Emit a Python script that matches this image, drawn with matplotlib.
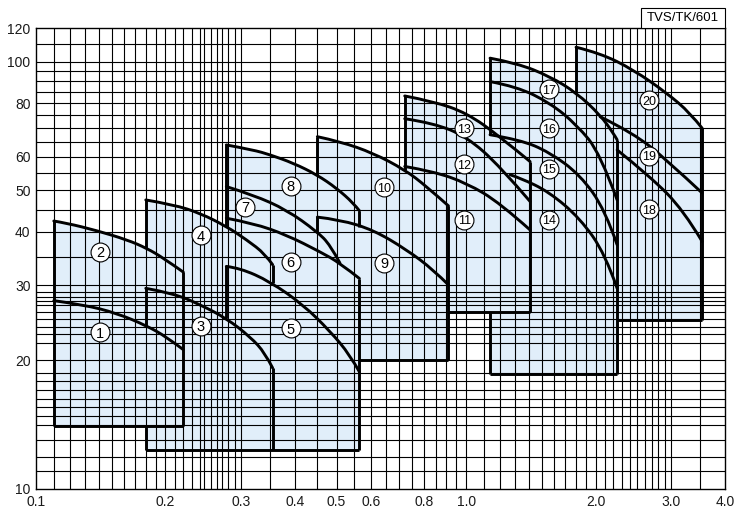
import matplotlib
matplotlib.use('Agg')
import numpy as np
import matplotlib.pyplot as plt
from matplotlib.patches import Rectangle, PathPatch
from matplotlib.path import Path

plt.rcParams['font.family'] = ['Liberation Sans', 'DejaVu Sans']

# pump curves: flow (x) and head (y)
c1_q = [0.11, 0.129, 0.154, 0.181, 0.201, 0.22]
c1_h = [27.6, 27.0, 25.8, 24.1, 22.7, 21.2]
c2_q = [0.11, 0.118, 0.138, 0.163, 0.181, 0.198, 0.22]
c2_h = [42.4, 41.9, 40.3, 38.3, 36.6, 34.7, 32.2]
c3_q = [0.18, 0.209, 0.241, 0.277, 0.315, 0.341, 0.355]
c3_h = [29.5, 28.7, 27.0, 25.1, 22.7, 20.8, 19.2]
c4_q = [0.18, 0.209, 0.241, 0.277, 0.309, 0.341, 0.355]
c4_h = [47.5, 46.3, 44.2, 41.2, 38.3, 35.5, 33.5]
c5_q = [0.277, 0.298, 0.35, 0.418, 0.483, 0.537, 0.565]
c5_h = [33.2, 32.9, 30.6, 27.0, 23.4, 20.6, 18.8]
c6_q = [0.277, 0.32, 0.383, 0.458, 0.509, 0.565]
c6_h = [43.05, 41.9, 39.3, 35.9, 33.8, 31.1]
c7_q = [0.277, 0.32, 0.383, 0.45, 0.483, 0.509]
c7_h = [51.05, 48.8, 45.0, 40.05, 37.3, 33.8]
c8_q = [0.277, 0.32, 0.35, 0.397, 0.45, 0.50, 0.547, 0.565]
c8_h = [63.9, 62.2, 60.6, 57.9, 54.4, 50.6, 46.7, 44.8]
c9_q = [0.451, 0.509, 0.609, 0.728, 0.839, 0.91]
c9_h = [43.3, 42.7, 40.4, 36.3, 32.6, 30.05]
c10_q = [0.451, 0.509, 0.609, 0.72, 0.81, 0.91]
c10_h = [66.8, 65.1, 61.1, 55.9, 51.05, 46.0]
c11_q = [0.72, 0.839, 1.004, 1.2, 1.409]
c11_h = [56.9, 55.4, 52.0, 46.7, 40.4]
c12_q = [0.72, 0.839, 1.004, 1.2, 1.409]
c12_h = [73.6, 71.9, 66.8, 56.9, 47.1]
c13_q = [0.72, 0.839, 1.004, 1.2, 1.409]
c13_h = [83.2, 80.8, 75.9, 66.8, 58.4]
c14_q = [1.266, 1.335, 1.56, 1.841, 2.106, 2.245]
c14_h = [54.4, 53.5, 49.6, 43.0, 35.5, 29.5]
c15_q = [1.137, 1.335, 1.56, 1.841, 2.106, 2.245]
c15_h = [67.5, 65.7, 61.5, 54.4, 45.0, 37.3]
c16_q = [1.137, 1.312, 1.568, 1.809, 2.05, 2.245]
c16_h = [89.9, 87.5, 80.1, 71.2, 61.1, 47.5]
c17_q = [1.137, 1.312, 1.568, 1.809, 2.05, 2.2, 2.245]
c17_h = [102.0, 99.3, 92.4, 84.5, 75.1, 68.1, 65.7]
c18_q = [2.245, 2.68, 3.2, 3.54]
c18_h = [62.2, 53.9, 45.0, 37.96]
c19_q = [2.05, 2.45, 2.93, 3.54]
c19_h = [74.4, 68.1, 58.9, 49.3]
c20_q = [1.802, 2.05, 2.45, 2.93, 3.32, 3.54]
c20_h = [108.2, 104.8, 95.8, 84.5, 75.9, 69.9]

curvas = [(c1_q, c1_h), (c2_q, c2_h), (c3_q, c3_h), (c4_q, c4_h), (c5_q, c5_h),
          (c6_q, c6_h), (c7_q, c7_h), (c8_q, c8_h), (c9_q, c9_h), (c10_q, c10_h),
          (c11_q, c11_h), (c12_q, c12_h), (c13_q, c13_h), (c14_q, c14_h),
          (c15_q, c15_h), (c16_q, c16_h), (c17_q, c17_h), (c18_q, c18_h),
          (c19_q, c19_h), (c20_q, c20_h)]

# shaded areas: flow limits, bottom head and top curve of each group
grp_left = [0.11, 0.18, 0.277, 0.451, 0.72, 1.137, 1.802]
grp_right = [0.22, 0.355, 0.565, 0.91, 1.409, 2.245, 3.54]
grp_bottom = [14.05, 12.34, 12.34, 20.0, 26.0, 18.6, 24.9]
grp_top = [(c2_q, c2_h), (c4_q, c4_h), (c8_q, c8_h), (c10_q, c10_h),
           (c13_q, c13_h), (c17_q, c17_h), (c20_q, c20_h)]

# visible outline pieces: vertical (flow, head from, head to), horizontal (head, flow from, flow to)
edge_v = [(0.11, 42.4, 14.05), (0.22, 32.2, 14.05),
          (0.18, 47.5, 36.6), (0.18, 29.5, 24.1), (0.18, 14.05, 12.34),
          (0.355, 33.5, 30.3), (0.355, 19.2, 12.34),
          (0.277, 63.9, 41.2), (0.277, 33.2, 25.1),
          (0.565, 44.8, 41.0), (0.565, 31.1, 12.34),
          (0.451, 66.8, 54.4), (0.451, 43.3, 40.05), (0.91, 46.0, 20.0),
          (0.72, 83.2, 55.9), (1.409, 58.4, 26.0),
          (1.137, 102.0, 67.5), (1.137, 26.0, 18.6), (2.245, 65.7, 18.6),
          (1.802, 108.2, 84.5), (3.54, 69.9, 24.9)]
edge_h = [(14.05, 0.11, 0.22), (12.34, 0.18, 0.565), (20.0, 0.565, 0.91),
          (26.0, 0.91, 1.409), (18.6, 1.137, 2.245), (24.9, 2.245, 3.54)]

# circled model numbers
lbl_txt = [str(i) for i in range(1, 21)]
lbl_q = [0.141, 0.141, 0.2415, 0.2415, 0.391, 0.391, 0.306, 0.391, 0.646, 0.646,
         0.991, 0.991, 0.991, 1.56, 1.56, 1.56, 1.56, 2.668, 2.668, 2.668]
lbl_h = [23.3, 35.9, 24.1, 39.3, 23.8, 34.0, 45.8, 51.3, 33.9, 50.9,
         42.7, 57.6, 69.9, 42.7, 56.2, 69.9, 86.3, 45.2, 60.3, 81.2]

# grid lines of the printed chart (not regular)
grid_x = [0.11, 0.12, 0.13, 0.14, 0.15, 0.16, 0.17, 0.18, 0.19, 0.2, 0.21, 0.22,
          0.23, 0.24, 0.246, 0.255, 0.263, 0.271, 0.279, 0.29, 0.3, 0.35, 0.4,
          0.45, 0.5, 0.55, 0.6, 0.65, 0.7, 0.75, 0.8, 0.85, 0.9, 0.95, 1.0, 1.1,
          1.2, 1.3, 1.4, 1.5, 1.6, 1.7, 1.8, 1.9, 2.0, 2.1, 2.2, 2.3, 2.4, 2.5,
          2.6, 2.7, 2.8, 2.9, 3.0, 3.5]
grid_y = [11, 11.9, 13, 14.1, 14.85, 15.6, 16.25, 17.06, 17.9, 18.7, 20, 22, 23,
          24, 25, 26, 26.9, 27.6, 28.2, 28.9, 30, 35, 40, 45, 50, 55, 60, 65, 70,
          75, 80, 85, 90, 95, 100, 110]

xticks = [0.1, 0.2, 0.3, 0.4, 0.5, 0.6, 0.8, 1.0, 2.0, 3.0, 4.0]
xtick_lbl = ['0.1', '0.2', '0.3', '0.4', '0.5', '0.6', '0.8', '1.0', '2.0', '3.0', '4.0']
yticks = [10, 20, 30, 40, 50, 60, 80, 100, 120]

preenchimento = '#e1eefa'


def trecho_suave(q, h):
    # smooth path through the read points (quadratic pieces, midpoints taken on the log scale)
    lq, lh = np.log10(q), np.log10(h)
    verts = [(q[0], h[0])]
    codes = [Path.MOVETO]
    n = len(q)
    if n == 2:
        return verts + [(q[1], h[1])], codes + [Path.LINETO]
    for i in range(1, n - 1):
        if i < n - 2:
            fim = (10 ** ((lq[i] + lq[i + 1]) / 2), 10 ** ((lh[i] + lh[i + 1]) / 2))
        else:
            fim = (q[-1], h[-1])
        verts += [(q[i], h[i]), fim]
        codes += [Path.CURVE3, Path.CURVE3]
    return verts, codes


fig = plt.figure(figsize=(7.48, 5.17), dpi=100)
ax = fig.add_axes([36 / 748, 28 / 517, 689 / 748, 461 / 517])
ax.set_xscale('log')
ax.set_yscale('log')
ax.set_xlim(0.1, 4.0)
ax.set_ylim(10, 120)

for esq, dir_, base, (tq, th) in zip(grp_left, grp_right, grp_bottom, grp_top):
    v, c = trecho_suave(tq, th)
    v = [(esq, base)] + v + [(dir_, base), (esq, base)]
    c = [Path.MOVETO, Path.LINETO] + c[1:] + [Path.LINETO, Path.CLOSEPOLY]
    ax.add_patch(PathPatch(Path(v, c), facecolor=preenchimento, lw=0, zorder=1))

for v in grid_x:
    ax.axvline(v, color='black', lw=0.8, zorder=2)
for v in grid_y:
    ax.axhline(v, color='black', lw=0.8, zorder=2)

for q, h in curvas:
    v, c = trecho_suave(q, h)
    ax.add_patch(PathPatch(Path(v, c), fill=False, edgecolor='black', lw=2.1,
                           capstyle='round', joinstyle='round', zorder=3))
for q, h0, h1 in edge_v:
    ax.vlines(q, h1, h0, color='black', lw=2.1, zorder=3)
for h, q0, q1 in edge_h:
    ax.hlines(h, q0, q1, color='black', lw=2.1, zorder=3)

ax.scatter(lbl_q, lbl_h, s=185, facecolor='white', edgecolor='black', linewidths=0.8, zorder=5)
for t, q, h in zip(lbl_txt, lbl_q, lbl_h):
    ax.text(q, h, t, ha='center', va='center_baseline', fontsize=10.5 if len(t) == 1 else 9,
            zorder=6)

ax.set_xticks(xticks)
ax.set_xticklabels(xtick_lbl)
ax.set_yticks(yticks)
ax.set_yticklabels([str(v) for v in yticks])
ax.minorticks_off()
ax.tick_params(length=0, labelsize=10, pad=4, colors='#1a1a1a')
for s in ax.spines.values():
    s.set_linewidth(1.0)

# model reference box
fig.add_artist(Rectangle((641 / 748, 489 / 517), 84 / 748, 20 / 517, transform=fig.transFigure,
                         facecolor='white', edgecolor='black', lw=0.8))
fig.text(683 / 748, 499 / 517, 'TVS/TK/601', ha='center', va='center', fontsize=9.5)

fig.savefig('out.png', dpi=100)
